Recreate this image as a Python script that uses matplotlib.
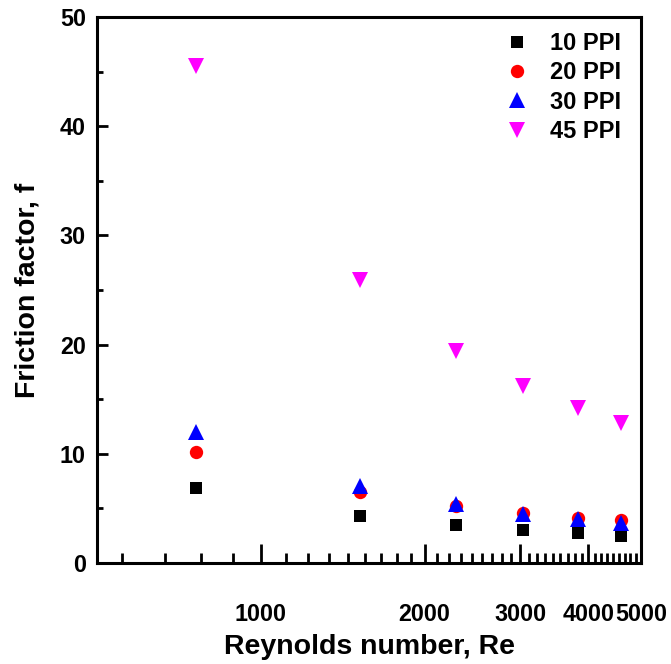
import numpy as np
import matplotlib
matplotlib.use('Agg')
import matplotlib.pyplot as plt
from matplotlib.ticker import FixedLocator, FixedFormatter, NullFormatter

plt.rcParams['font.family'] = ['Liberation Sans', 'DejaVu Sans']
plt.rcParams['font.weight'] = 'bold'

# Reynolds number at each test point
re = [760, 1523, 2285, 3040, 3824, 4594]

# friction factor for each foam pore density
f_10ppi = [6.9, 4.35, 3.48, 3.02, 2.73, 2.47]
f_20ppi = [10.2, 6.5, 5.2, 4.6, 4.15, 3.94]
f_30ppi = [12.0, 7.07, 5.36, 4.5, 4.0, 3.7]
f_45ppi = [45.5, 25.9, 19.4, 16.2, 14.2, 12.8]

series = [
    ('10 PPI', f_10ppi, 's', 'black', 8.8),
    ('20 PPI', f_20ppi, 'o', 'red', 9.6),
    ('30 PPI', f_30ppi, '^', 'blue', 11),
    ('45 PPI', f_45ppi, 'v', 'magenta', 11),
]

fig = plt.figure(figsize=(6.71, 6.64), dpi=100)
ax = fig.add_axes([0.1446, 0.1521, 0.8107, 0.8223])

for name, vals, mk, col, ms in series:
    ax.plot(re, vals, linestyle='none', marker=mk, color=col,
            markersize=ms, markeredgewidth=0, label=name)

ax.set_xscale('log')
ax.set_xlim(500, 5000)
ax.set_ylim(0, 50)

# x ticks: majors at thousands, minors every 1000/9
ax.xaxis.set_major_locator(FixedLocator([1000, 2000, 3000, 4000, 5000]))
ax.xaxis.set_major_formatter(FixedFormatter(['1000', '2000', '3000', '4000', '5000']))
minor = [k * 1000 / 9 for k in range(5, 45) if k % 9 != 0]
ax.xaxis.set_minor_locator(FixedLocator(minor))
ax.xaxis.set_minor_formatter(NullFormatter())

ax.set_yticks([0, 10, 20, 30, 40, 50])
ax.set_yticks([5, 15, 25, 35, 45], minor=True)

for sp in ax.spines.values():
    sp.set_linewidth(2.2)

ax.tick_params(axis='x', which='major', direction='in', length=14, width=2,
               labelsize=16.8, pad=29, top=False)
ax.tick_params(axis='x', which='minor', direction='in', length=7, width=2, top=False)
ax.tick_params(axis='y', which='major', direction='in', length=8, width=2,
               labelsize=16.8, pad=8, right=False)
ax.tick_params(axis='y', which='minor', direction='in', length=4, width=2, right=False)

ax.set_xlabel('Reynolds number, Re', fontsize=20.5, fontweight='bold', va='center')
ax.xaxis.set_label_coords(0.5, -0.154)
ax.set_ylabel('Friction factor, f', fontsize=20.5, fontweight='bold', va='center')
ax.yaxis.set_label_coords(-0.127, 0.5)

leg = ax.legend(loc='upper right', bbox_to_anchor=(0.981, 0.99), frameon=False,
                fontsize=17, handletextpad=0.9, labelspacing=0.27,
                borderaxespad=0.0, handlelength=1.0)

fig.savefig('out.png', dpi=100)
